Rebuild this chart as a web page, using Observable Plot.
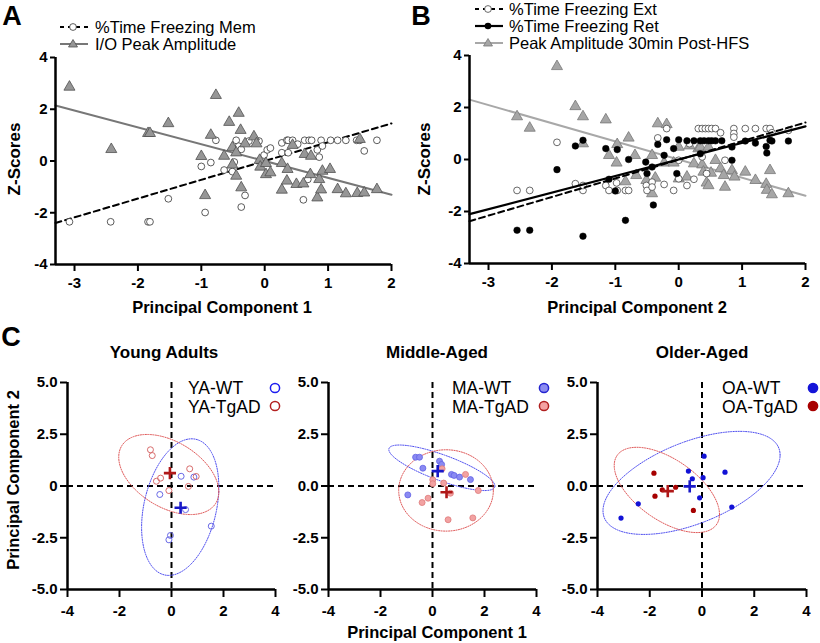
<!DOCTYPE html>
<html><head><meta charset="utf-8">
<script src="https://cdn.jsdelivr.net/npm/d3@7"></script>
<script src="https://cdn.jsdelivr.net/npm/@observablehq/plot@0.6"></script>
<style>
body{margin:0;background:#fff;font-family:"Liberation Sans",Arial,sans-serif;color:#000;}
#root{position:relative;width:820px;height:643px;overflow:hidden;background:#fff;}
.t{position:absolute;white-space:nowrap;line-height:1.15;}
</style></head><body><div id="root"></div>
<script>
// ---------- Panel A data ----------
const memX = [-3.08,-2.43,-1.84,-1.81,-1.52,-1.0,-0.94,-0.85,-0.77,-0.64,-0.51,-0.48,-0.45,-0.41,-0.37,-0.37,-0.31,-0.25,-0.09,-0.01,0.04,0.09,0.27,0.27,0.35,0.37,0.44,0.37,0.52,0.61,0.63,0.70,0.74,0.68,0.83,0.86,0.89,0.91,1.04,1.15,1.28,1.45,1.50,1.57,1.77];
const memY = [-2.35,-2.35,-2.35,-2.35,-1.46,-0.21,-1.99,-0.06,0.80,-0.35,-0.41,-0.04,0.80,0.57,0.45,-1.78,-1.33,0.77,0.77,0.23,0.43,0.50,0.70,0.32,0.80,0.80,0.80,0.32,0.65,-1.50,0.80,0.80,0.80,-0.71,0.43,0.15,0.80,0.58,0.80,0.80,0.80,0.80,0.80,0.39,0.80];
const ioX = [-3.08,-2.42,-1.84,-1.81,-1.52,-1.0,-0.94,-0.85,-0.77,-0.64,-0.56,-0.51,-0.51,-0.45,-0.45,-0.41,-0.38,-0.37,-0.31,-0.17,-0.13,-0.08,-0.07,0.02,0.02,0.09,0.27,0.27,0.35,0.36,0.44,0.50,0.61,0.63,0.72,0.73,0.83,0.86,0.89,0.91,1.03,1.15,1.28,1.46,1.50,1.57,1.77];
const ioY = [2.86,0.45,1.07,1.07,1.45,0.18,-1.33,1.0,2.54,0.19,1.5,0.52,-0.15,0.32,-0.58,1.85,1.19,-1.03,0.67,0.94,0.67,0.03,-0.23,-0.09,-0.52,-0.45,-0.09,-1.12,-0.77,-0.32,0.61,-0.90,-0.88,0.26,-0.52,0.19,-1.42,-0.71,-1.11,-0.39,-0.32,-1.10,-1.26,-1.25,0.84,-1.23,-1.10];
const fitA = {mem: [0.726, 0], io: [-0.651, 0]}; // slope, intercept

// ---------- Panel B data ----------
const extX = [-2.55,-2.35,-1.92,-1.63,-1.51,-1.51,-1.15,-1.10,-0.98,-0.97,-0.84,-0.79,-0.51,-0.50,-0.42,-0.42,-0.33,-0.23,-0.19,-0.08,0.0,0.0,0.13,0.17,0.24,0.31,0.37,0.42,0.47,0.52,0.58,0.37,0.44,0.66,0.73,0.87,0.87,0.87,1.05,1.21,1.38,1.44,1.47,1.73];
const extY = [-1.19,-1.19,0.66,-0.93,-1.19,-1.0,-1.0,-1.19,-0.9,-1.19,-1.19,-1.19,-1.0,-1.19,-0.87,-1.06,0.83,-0.96,1.19,-1.19,-0.03,-0.74,-1.0,0.61,-0.76,1.19,1.19,1.19,1.19,1.19,1.19,0.1,-0.54,1.03,-0.03,1.19,1.0,0.86,1.19,1.19,1.19,1.19,1.03,1.12];
const retX = [-2.55,-2.35,-1.92,-1.63,-1.51,-1.51,-1.15,-1.10,-1.0,-0.97,-0.84,-0.79,-0.52,-0.50,-0.42,-0.40,-0.33,-0.19,-0.23,-0.08,-0.03,0.0,0.13,0.24,0.34,0.40,0.47,0.52,0.58,0.68,0.34,0.84,0.84,1.05,1.21,1.38,1.39,1.44,1.47,1.73];
const retY = [-2.72,-2.72,-0.39,0.52,0.74,-2.95,0.42,-0.76,-1.21,0.38,-2.34,0.0,-0.10,-0.54,-0.29,-1.75,0.58,0.76,0.16,0.42,-0.54,0.76,0.72,0.72,0.72,0.72,0.72,0.72,0.72,0.72,0.22,0.48,-0.03,0.71,0.63,0.50,0.25,0.74,0.71,0.71];
const peakX = [-2.55,-2.35,-1.92,-1.63,-1.51,-1.51,-1.15,-1.10,-0.97,-0.98,-0.84,-0.79,-0.69,-0.67,-0.51,-0.42,-0.42,-0.37,-0.33,-0.19,-0.23,-0.08,0.0,0.0,0.13,0.17,0.24,0.31,0.34,0.37,0.39,0.44,0.47,0.47,0.51,0.58,0.66,0.71,0.73,0.84,0.88,1.05,1.21,1.38,1.39,1.44,1.47,1.73];
const peakY = [1.65,1.21,3.58,2.04,1.65,0.61,1.53,0.16,0.58,-0.13,-0.85,0.83,0.16,-0.61,-0.80,0.16,-1.31,-0.71,1.38,1.35,-0.13,-0.13,0.48,-0.74,-0.67,0.53,-0.16,0.42,0.48,-0.2,-0.48,-0.90,-1.0,0.48,-0.52,-0.03,-0.35,-0.61,-1.06,-0.42,-0.67,-0.48,-0.80,-0.95,-1.18,-0.42,-1.35,-1.31];
const fitB = {ext: [0.716, -0.01], ret: [0.637, 0.0], peak: [-0.698, 0.0]};

const xDomAB = [-3.3, 2];
const yDomAB = [-4, 4];
const xTicksAB = [-3, -2, -1, 0, 1, 2];
const yTicksAB = [-4, -2, 0, 2, 4];

// ---------- Panel C data ----------
const yaWT_X = [0.37,0.86,-0.45,0.54,1.53,-0.04,-0.10];
const yaWT_Y = [0.47,0.43,-0.41,-1.14,-1.94,-2.39,-2.60];
const yaTg_X = [-0.81,-0.74,-0.58,-0.42,-0.10,0.70,0.95,0.65];
const yaTg_Y = [1.75,1.47,0.23,0.38,-0.22,0.83,0.46,-0.02];
const maWT_X = [-0.65,-0.50,-0.37,0.27,0.35,0.73,0.83,1.04,1.46,-0.95];
const maWT_Y = [1.39,1.39,0.86,1.20,1.04,0.56,0.51,0.43,0.31,-0.43];
const maTg_X = [0.37,0.01,0.01,0.43,1.27,1.76,0.69,-0.17,-0.40,0.60,1.55];
const maTg_Y = [0.83,0.30,0.11,0.14,0.56,-0.22,-0.35,-0.59,-0.80,-1.63,-1.54];
const oaWT_X = [-3.10,-2.44,-0.52,-0.37,0.04,0.08,0.88,-0.09,1.14];
const oaWT_Y = [-1.55,-0.86,0.72,0.35,0.40,1.44,0.67,-0.57,-1.02];
const oaTg_X = [-1.84,-1.80,-1.52,-1.01,-0.33];
const oaTg_Y = [0.62,-0.49,-0.18,-0.06,-1.18];
// group centroids [x, y]
const centroidsWT = {YA: [0.35, -1.05], MA: [0.20, 0.72], OA: [-0.47, -0.02]};
const centroidsTg = {YA: [-0.06, 0.62], MA: [0.54, -0.30], OA: [-1.31, -0.25]};
// ellipses: [centerX, centerY, halfWidthX, halfHeightY, phase]
const ellWT = {YA: [0.335, -1.02, 1.485, 3.30, 1.27], MA: [0.36, 0.88, 2.04, 1.10, 2.50], OA: [-0.40, 0.15, 3.39, 2.49, 1.0]};
const ellTg = {YA: [-0.105, 0.555, 1.925, 1.935, 2.02], MA: [0.52, -0.215, 1.82, 1.965, 1.57], OA: [-1.345, -0.19, 2.015, 2.06, 2.18]};
const xDomC = [-4, 4], yDomC = [-5, 5];
const xTicksC = [-4, -2, 0, 2, 4], yTicksC = [-5, -2.5, 0, 2.5, 5];

// ---------- helpers ----------
const root = document.getElementById("root");
const FONT = '"Liberation Sans", Arial, sans-serif';
const zip = (xs, ys) => xs.map((x, i) => ({x, y: ys[i]}));
const fitPts = ([m, b]) => xDomAB.map(x => ({x, y: m * x + b}));
const ellipsePts = ([cx, cy, a, b, ph]) => d3.range(0, 121).map(i => {
  const t = i / 120 * 2 * Math.PI;
  return {x: cx + a * Math.cos(t), y: cy + b * Math.cos(t - ph)};
});
function place(svg, left, top) {
  svg.style.position = "absolute"; svg.style.left = left + "px"; svg.style.top = top + "px";
  root.appendChild(svg);
}
function text(str, x, y, o = {}) {
  const d = document.createElement("div");
  d.className = "t"; d.textContent = str;
  d.style.fontSize = (o.size || 16) + "px";
  d.style.fontWeight = o.bold ? "bold" : "normal";
  d.style.left = x + "px"; d.style.top = y + "px";
  const tr = o.anchor === "left" ? "translate(0,-50%)" : "translate(-50%,-50%)";
  d.style.transform = tr + (o.rotate ? " rotate(-90deg)" : "");
  root.appendChild(d);
}
function swatch(html, x, y, w = 34, h = 16) {
  const d = document.createElement("div");
  d.style.position = "absolute"; d.style.left = x + "px"; d.style.top = (y - h / 2) + "px";
  d.innerHTML = `<svg width="${w}" height="${h}" style="display:block;overflow:visible">${html}</svg>`;
  root.appendChild(d);
}
const style = {fontFamily: FONT, background: "transparent", overflow: "visible", color: "#000"};
const axisOpts = {fontSize: 15, fontWeight: "bold", strokeWidth: 2, label: null, fill: "#000"};

// ---------- Panel A ----------
place(Plot.plot({
  width: 410, height: 320, marginLeft: 55, marginRight: 19, marginTop: 57, marginBottom: 56,
  x: {domain: xDomAB}, y: {domain: yDomAB}, style,
  marks: [
    Plot.line(fitPts(fitA.mem), {x: "x", y: "y", stroke: "#000", strokeWidth: 2, strokeDasharray: "6,4"}),
    Plot.line(fitPts(fitA.io), {x: "x", y: "y", stroke: "#777", strokeWidth: 2}),
    Plot.dot(zip(memX, memY), {x: "x", y: "y", r: 3.4, fill: "white", stroke: "#333", strokeWidth: 0.8}),
    Plot.dot(zip(ioX, ioY), {x: "x", y: "y", symbol: "triangle", r: 4.1, fill: "#969696", stroke: "#505050", strokeWidth: 0.8}),
    Plot.ruleX([xDomAB[0]], {strokeWidth: 2.5}),
    Plot.ruleY([yDomAB[0]], {strokeWidth: 2.5}),
    Plot.axisX({...axisOpts, ticks: xTicksAB, tickSize: 7, tickPadding: 6, tickFormat: d => String(d)}),
    Plot.axisY({...axisOpts, ticks: yTicksAB, tickSize: 5, tickPadding: 3, tickFormat: d => String(d)})
  ]
}), 0, 0);

// ---------- Panel B ----------
place(Plot.plot({
  width: 410, height: 320, marginLeft: 59, marginRight: 15, marginTop: 55, marginBottom: 57,
  x: {domain: xDomAB}, y: {domain: yDomAB}, style,
  marks: [
    Plot.line(fitPts(fitB.peak), {x: "x", y: "y", stroke: "#a8a8a8", strokeWidth: 2}),
    Plot.dot(zip(peakX, peakY), {x: "x", y: "y", symbol: "triangle", r: 4.1, fill: "#a6a6a6", stroke: "#777", strokeWidth: 0.8}),
    Plot.dot(zip(extX, extY), {x: "x", y: "y", r: 3.4, fill: "white", stroke: "#444", strokeWidth: 0.8}),
    Plot.dot(zip(retX, retY), {x: "x", y: "y", r: 3.3, fill: "#000", stroke: "#000", strokeWidth: 0.5}),
    Plot.line(fitPts(fitB.ext), {x: "x", y: "y", stroke: "#000", strokeWidth: 2, strokeDasharray: "6,4"}),
    Plot.line(fitPts(fitB.ret), {x: "x", y: "y", stroke: "#000", strokeWidth: 2.2}),
    Plot.ruleX([xDomAB[0]], {strokeWidth: 2.5}),
    Plot.ruleY([yDomAB[0]], {strokeWidth: 2.5}),
    Plot.axisX({...axisOpts, ticks: xTicksAB, tickSize: 7, tickPadding: 6, tickFormat: d => String(d)}),
    Plot.axisY({...axisOpts, ticks: yTicksAB, tickSize: 5, tickPadding: 3, tickFormat: d => String(d)})
  ]
}), 410, 0);

// ---------- Panel C ----------
function pca(key, ml, mr, wt, tg, wtStyle, tgStyle, yfmt) {
  return Plot.plot({
    width: 270, height: 260, marginLeft: ml, marginRight: mr, marginTop: 22, marginBottom: 31,
    x: {domain: xDomC}, y: {domain: yDomC}, style,
    marks: [
      Plot.ruleX([0], {stroke: "#000", strokeWidth: 2, strokeDasharray: "6,4"}),
      Plot.ruleY([0], {stroke: "#000", strokeWidth: 2, strokeDasharray: "6,4"}),
      Plot.line(ellipsePts(ellWT[key]), {x: "x", y: "y", stroke: "#4f4ff0", strokeWidth: 1, strokeDasharray: "1.2,1.3"}),
      Plot.line(ellipsePts(ellTg[key]), {x: "x", y: "y", stroke: "#e05a5a", strokeWidth: 1, strokeDasharray: "1.2,1.3"}),
      Plot.dot(wt, {x: "x", y: "y", ...wtStyle}),
      Plot.dot(tg, {x: "x", y: "y", ...tgStyle}),
      Plot.dot([centroidsWT[key]], {x: d => d[0], y: d => d[1], symbol: "plus", r: 4, stroke: "#1818c8", strokeWidth: 2.6}),
      Plot.dot([centroidsTg[key]], {x: d => d[0], y: d => d[1], symbol: "plus", r: 4, stroke: "#b01818", strokeWidth: 2.6}),
      Plot.ruleX([xDomC[0]], {strokeWidth: 2.5}),
      Plot.ruleY([yDomC[0]], {strokeWidth: 2.5}),
      Plot.axisX({...axisOpts, ticks: xTicksC, tickSize: 8, tickPadding: 8, tickFormat: d => String(d)}),
      Plot.axisY({...axisOpts, ticks: yTicksC, tickSize: 7, tickPadding: 3, tickFormat: yfmt})
    ]
  });
}
const fmtYA = d => d === 0 ? "0" : d.toFixed(1);
const fmtC = d => d.toFixed(1);
place(pca("YA", 47, 15, zip(yaWT_X, yaWT_Y), zip(yaTg_X, yaTg_Y),
  {r: 3, fill: "none", stroke: "#6a6ae6", strokeWidth: 1},
  {r: 3, fill: "none", stroke: "#d86c6c", strokeWidth: 1}, fmtYA), 20, 360);
place(pca("MA", 43, 19, zip(maWT_X, maWT_Y), zip(maTg_X, maTg_Y),
  {r: 3, fill: "#8a8af2", stroke: "#6262e6", strokeWidth: 0.8},
  {r: 3, fill: "#f2a2a2", stroke: "#de7a7a", strokeWidth: 0.8}, fmtC), 285, 360);
place(pca("OA", 47, 14, zip(oaWT_X, oaWT_Y), zip(oaTg_X, oaTg_Y),
  {r: 2.6, fill: "#1212d6", stroke: "none"},
  {r: 2.6, fill: "#a60000", stroke: "none"}, fmtC), 550, 360);

// ---------- Text ----------
text("A", 12, 17, {size: 27, bold: true});
text("B", 421, 17, {size: 27, bold: true});
text("C", 11, 338, {size: 27, bold: true});
text("Z-Scores", 15, 159, {size: 17, bold: true, rotate: true});
text("Z-Scores", 425, 159, {size: 17, bold: true, rotate: true});
text("Principal Component 1", 222, 307, {size: 16.5, bold: true});
text("Principal  Component 2", 637, 307, {size: 16.5, bold: true});
text("Principal Component 2", 13, 480, {size: 16.5, bold: true, rotate: true});
text("Principal Component 1", 437, 632, {size: 16.5, bold: true});
text("Young Adults", 164, 353, {size: 17, bold: true});
text("Middle-Aged", 437, 353, {size: 17, bold: true});
text("Older-Aged", 702, 353, {size: 17, bold: true});

// legend A
swatch(`<line x1="2" y1="8" x2="30" y2="8" stroke="#000" stroke-width="2" stroke-dasharray="4,4"/><circle cx="15" cy="8" r="3.4" fill="#fff" stroke="#333" stroke-width="0.8"/>`, 58, 27);
text("%Time Freezing Mem", 95, 27, {size: 16.5, anchor: "left"});
swatch(`<line x1="2" y1="8" x2="30" y2="8" stroke="#777" stroke-width="2"/><polygon points="15,3.5 19.5,11 10.5,11" fill="#969696" stroke="#505050" stroke-width="0.8"/>`, 58, 44);
text("I/O Peak Amplitude", 95, 44, {size: 16.5, anchor: "left"});
// legend B
swatch(`<line x1="2" y1="8" x2="30" y2="8" stroke="#000" stroke-width="2" stroke-dasharray="4,4"/><circle cx="15" cy="8" r="3.4" fill="#fff" stroke="#444" stroke-width="0.8"/>`, 473, 9);
text("%Time Freezing Ext", 509, 9, {size: 16.5, anchor: "left"});
swatch(`<line x1="2" y1="8" x2="30" y2="8" stroke="#000" stroke-width="2.2"/><circle cx="15" cy="8" r="3.3" fill="#000"/>`, 473, 26);
text("%Time Freezing Ret", 509, 26, {size: 16.5, anchor: "left"});
swatch(`<line x1="2" y1="8" x2="30" y2="8" stroke="#a8a8a8" stroke-width="2"/><polygon points="15,3.5 19.5,11 10.5,11" fill="#a6a6a6" stroke="#777" stroke-width="0.8"/>`, 473, 43);
text("Peak Amplitude 30min Post-HFS", 509, 43, {size: 16.5, anchor: "left"});

// legends C
const legC = [
  ["YA-WT", "YA-TgAD", 188, 275, ['fill="#fff" stroke="#1c1cf0"', 'fill="#fff" stroke="#b32020"']],
  ["MA-WT", "MA-TgAD", 452, 544, ['fill="#8c8cf0" stroke="#2424d0"', 'fill="#f4a2a2" stroke="#b02020"']],
  ["OA-WT", "OA-TgAD", 722, 813, ['fill="#1414d8" stroke="#1414d8"', 'fill="#a80000" stroke="#a80000"']]
];
legC.forEach(([a, b, tx, mx, st]) => {
  text(a, tx, 388, {size: 17.5, anchor: "left"});
  text(b, tx, 407, {size: 17.5, anchor: "left"});
  swatch(`<circle cx="6" cy="6" r="4.6" ${st[0]} stroke-width="1.5"/>`, mx - 6, 388, 12, 12);
  swatch(`<circle cx="6" cy="6" r="4.6" ${st[1]} stroke-width="1.5"/>`, mx - 6, 406, 12, 12);
});
</script></body></html>
